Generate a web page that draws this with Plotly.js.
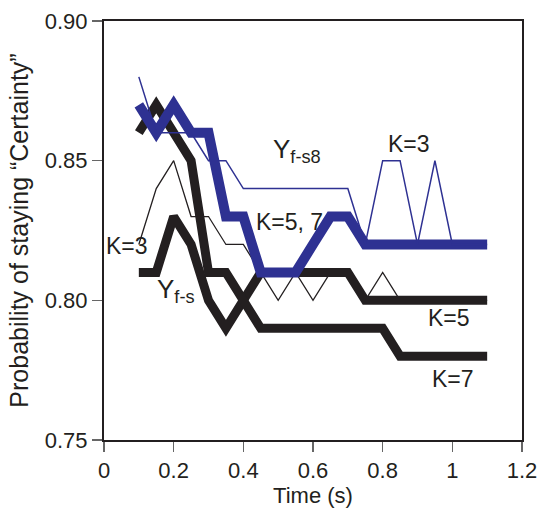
<!DOCTYPE html>
<html>
<head>
<meta charset="utf-8">
<script src="https://cdn.plot.ly/plotly-3.0.1.min.js"></script>
<style>html,body{margin:0;padding:0;background:#fff;}#chart{width:541px;height:509px;}</style>
</head>
<body>
<div id="chart"></div>
<script>
var time = [0.1,0.15,0.2,0.25,0.3,0.35,0.4,0.45,0.5,0.55,0.6,0.65,0.7,0.75,0.8,0.85,0.9,0.95,1.0,1.05,1.1];
var blueThin  = [0.88,0.86,0.86,0.86,0.85,0.85,0.84,0.84,0.84,0.84,0.84,0.84,0.84,0.82,0.85,0.85,0.82,0.85,0.82,0.82,0.82];
var blueThick = [0.87,0.86,0.87,0.86,0.86,0.83,0.83,0.81,0.81,0.81,0.82,0.83,0.83,0.82,0.82,0.82,0.82,0.82,0.82,0.82,0.82];
var blackThinK3 = [0.82,0.84,0.85,0.83,0.83,0.82,0.82,0.81,0.80,0.81,0.80,0.81,0.81,0.80,0.81,0.80,0.80,0.80,0.80,0.80,0.80];
var blackK5 = [0.81,0.81,0.83,0.82,0.80,0.79,0.80,0.81,0.81,0.81,0.81,0.81,0.81,0.80,0.80,0.80,0.80,0.80,0.80,0.80,0.80];
var blackK7 = [0.86,0.87,0.86,0.85,0.81,0.81,0.80,0.79,0.79,0.79,0.79,0.79,0.79,0.79,0.79,0.78,0.78,0.78,0.78,0.78,0.78];
var xTicks = [0,0.2,0.4,0.6,0.8,1,1.2];
var xTickText = ['0','0.2','0.4','0.6','0.8','1','1.2'];
var yTicks = [0.75,0.80,0.85,0.90];
var yTickText = ['0.75','0.80','0.85','0.90'];

var BLUE = '#2e3192', BLACK = '#231f20';
var FONT = 'Liberation Sans, Arial, Helvetica, sans-serif';

var traces = [
  {x: time, y: blackThinK3, mode:'lines', line:{color:BLACK, width:1.3}},
  {x: time, y: blackK5, mode:'lines', line:{color:BLACK, width:9, join:'miter'}},
  {x: time, y: blackK7, mode:'lines', line:{color:BLACK, width:9, join:'miter'}},
  {x: time, y: blueThick, mode:'lines', line:{color:BLUE, width:10, join:'miter'}},
  {x: time, y: blueThin, mode:'lines', line:{color:BLUE, width:1.5}}
];

function ann(text, x, y, size){
  return {text:text, x:x, y:y, xref:'x', yref:'y', xanchor:'left', yanchor:'middle', showarrow:false, font:{family:FONT, size:size||23, color:'#231f20'}};
}

var layout = {
  width:541, height:509,
  margin:{l:104, r:19, t:21, b:69},
  paper_bgcolor:'#fff', plot_bgcolor:'#fff',
  showlegend:false,
  font:{family:FONT, size:22, color:'#231f20'},
  xaxis:{range:[0,1.2], tickvals:xTicks, ticktext:xTickText, ticks:'outside', ticklen:10, tickcolor:'#666', tickwidth:1.5,
         showline:true, linecolor:BLACK, linewidth:2, mirror:true, showgrid:false, zeroline:false,
         tickfont:{family:FONT, size:22, color:'#231f20'},
         title:{text:'Time (s)', font:{family:FONT, size:22, color:'#231f20'}, standoff:1}},
  yaxis:{range:[0.75,0.90], tickvals:yTicks, ticktext:yTickText, ticks:'outside', ticklen:10, tickcolor:'#666', tickwidth:1.5,
         showline:true, linecolor:BLACK, linewidth:2, mirror:true, showgrid:false, zeroline:false,
         tickfont:{family:FONT, size:22, color:'#231f20'},
         title:{text:'Probability of staying \u201cCertainty\u201d', font:{family:FONT, size:25, color:'#231f20'}, standoff:9}},
  annotations:[
    ann('Y<sub>f-s8</sub>', 0.48, 0.8535, 26),
    ann('K=3', 0.81, 0.856),
    ann('K=5, 7', 0.43, 0.828),
    ann('K=3', 0.0, 0.8195),
    ann('Y<sub>f-s</sub>', 0.145, 0.8035, 26),
    ann('K=5', 0.925, 0.7937),
    ann('K=7', 0.935, 0.772)
  ]
};
Plotly.newPlot('chart', traces, layout, {displayModeBar:false, staticPlot:true});
</script>
</body>
</html>
